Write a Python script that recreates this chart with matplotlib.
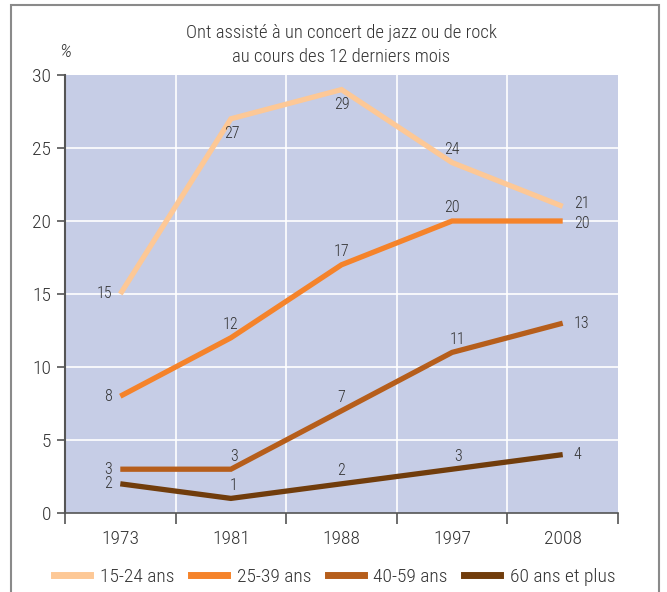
import matplotlib
matplotlib.use("Agg")
import matplotlib.pyplot as plt
from matplotlib.patches import Rectangle
from matplotlib.lines import Line2D

plt.rcParams['font.family'] = ['Roboto Condensed', 'DejaVu Sans']
plt.rcParams['font.weight'] = 'light'

years = ["1973", "1981", "1988", "1997", "2008"]
series_names = ["15-24 ans", "25-39 ans", "40-59 ans", "60 ans et plus"]
v_15_24 = [15, 27, 29, 24, 21]
v_25_39 = [8, 12, 17, 20, 20]
v_40_59 = [3, 3, 7, 11, 13]
v_60_plus = [2, 1, 2, 3, 4]
yticks = [0, 5, 10, 15, 20, 25, 30]
title = "Ont assisté à un concert de jazz ou de rock\nau cours des 12 derniers mois"

colors = ["#fdc896", "#f5832a", "#b65e1b", "#713d0c"]
all_vals = [v_15_24, v_25_39, v_40_59, v_60_plus]

# label placement per series/point: (dx points, dy points, ha, va)
placements = [
    [(-6, 0, 'right', 'center'), (1, -5, 'center', 'top'), (0, -5, 'center', 'top'), (0, 4, 'center', 'bottom'), (8, 2, 'left', 'center')],
    [(-6, 0, 'right', 'center'), (0, 4, 'center', 'bottom'), (0, 4, 'center', 'bottom'), (0, 4, 'center', 'bottom'), (8, -2, 'left', 'center')],
    [(-6, 0, 'right', 'center'), (2, 4, 'center', 'bottom'), (0, 4, 'center', 'bottom'), (4, 4, 'center', 'bottom'), (8, 0, 'left', 'center')],
    [(-6, 0, 'right', 'center'), (2, 4, 'center', 'bottom'), (0, 4, 'center', 'bottom'), (4, 4, 'center', 'bottom'), (8, 0, 'left', 'center')],
]

fig = plt.figure(figsize=(6.67, 5.92), dpi=100)
ax = fig.add_axes([65/667, 1-513/592, 553/667, 438/592])
ax.set_facecolor("#c6cde6")

x = list(range(len(years)))
for vals, c, name, pl in zip(all_vals, colors, series_names, placements):
    ax.plot(x, vals, color=c, lw=3.8, solid_capstyle='butt', solid_joinstyle='miter', label=name, zorder=3)
    for xi, v, (dx, dy, ha, va) in zip(x, vals, pl):
        ax.annotate(str(v), (xi, v), xytext=(dx, dy), textcoords='offset points',
                    ha=ha, va=va, fontsize=11.5, color="#333333", zorder=4)

ax.set_xlim(-0.5, 4.5)
ax.set_ylim(0, 30)
ax.set_yticks(yticks)
ax.set_yticklabels([str(t) for t in yticks])
ax.set_xticks(x)
ax.set_xticklabels(years)
ax.set_xticks([i + 0.5 for i in range(-1, len(years))], minor=True)
ax.tick_params(axis='x', which='major', length=0, pad=12, labelsize=14, colors="#333333")
ax.tick_params(axis='x', which='minor', length=8, width=1.2, color="#555555")
ax.tick_params(axis='y', length=6, width=1.2, color="#555555", labelsize=14, labelcolor="#333333", pad=4)

for yv in yticks[1:-1]:
    ax.axhline(yv, color="white", lw=1.2, zorder=1)
for i in range(len(years) - 1):
    ax.axvline(i + 0.5, color="white", lw=1.2, zorder=1)

for s in ['top', 'right']:
    ax.spines[s].set_visible(False)
ax.spines['left'].set_color("#555555")
ax.spines['left'].set_linewidth(1.5)
ax.spines['bottom'].set_color("#555555")
ax.spines['bottom'].set_linewidth(1.2)

fig.text(341/667, 1-45/592, title, ha='center', va='center', fontsize=13.4, color="#333333", linespacing=1.45)
fig.text(65/667, 1-52/592, "%", ha='center', va='center', fontsize=14, color="#333333", style='italic')

handles = [Line2D([0], [0], color=c, lw=5) for c in colors]
fig.legend(handles, series_names, loc='center', bbox_to_anchor=(335/667, 1-577/592), ncol=4,
           frameon=False, fontsize=14, handlelength=1.85, handletextpad=0.5, columnspacing=0.85,
           labelcolor="#333333")

fig.patches.append(Rectangle((11/667, -0.1), 648/667, 1.1 - 5/592, transform=fig.transFigure,
                             fill=False, edgecolor="#8a8a8a", lw=1.5, clip_on=False))

fig.savefig("out.png", dpi=100)
